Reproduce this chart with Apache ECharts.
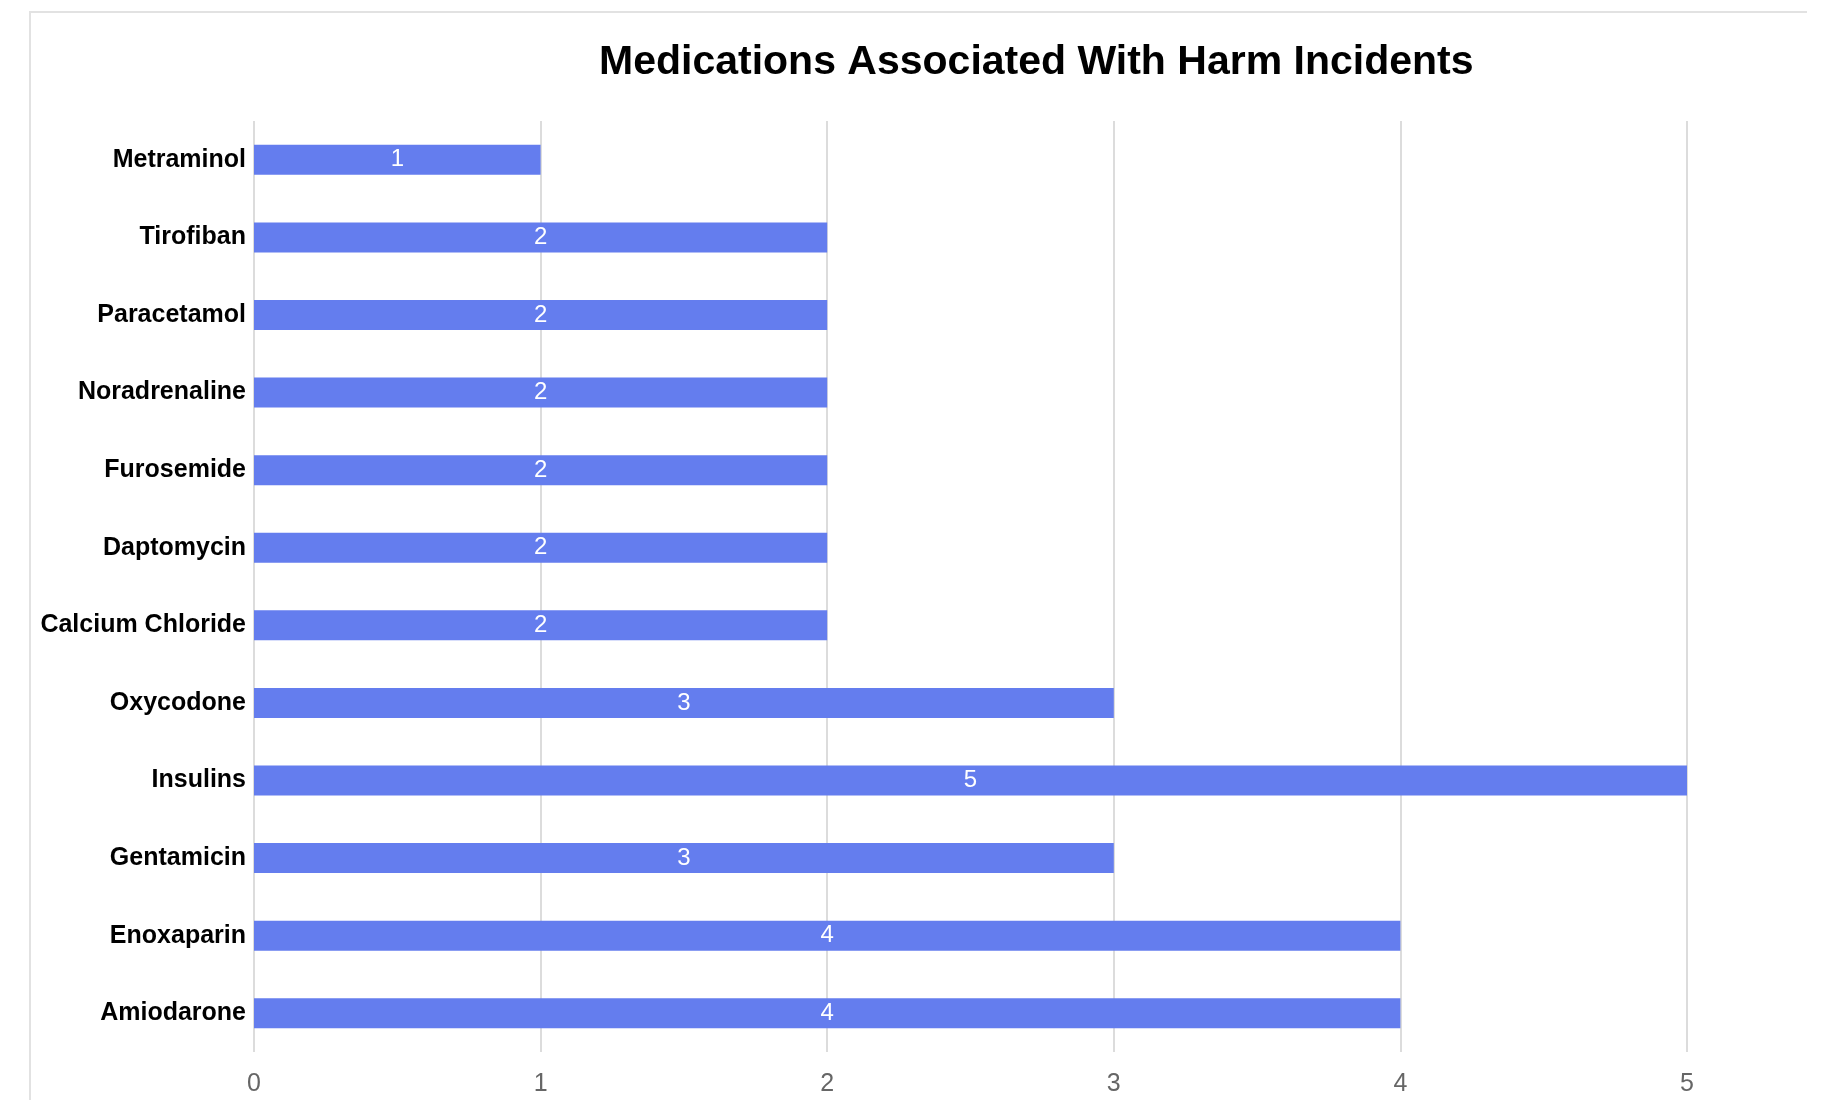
<!DOCTYPE html>
<html>
<head>
<meta charset="utf-8">
<title>Medications Associated With Harm Incidents</title>
<script src="https://cdn.jsdelivr.net/npm/echarts@6/dist/echarts.min.js"></script>
<style>
	html, body {margin: 0; padding: 0; background: #fff;}
	#main {width: 1827px; height: 1100px;}
</style>
</head>
<body>
<div id="main"></div>
<script>
// 药品名称（从上到下）
var medications = ['Metraminol', 'Tirofiban', 'Paracetamol', 'Noradrenaline', 'Furosemide', 'Daptomycin',
	'Calcium Chloride', 'Oxycodone', 'Insulins', 'Gentamicin', 'Enoxaparin', 'Amiodarone'];
// 伤害事件数
var incidents = [1, 2, 2, 2, 2, 2, 2, 3, 5, 3, 4, 4];
var xTicks = [0, 1, 2, 3, 4, 5];

var HarmChart = (function () {
	/**
	 * 药品伤害统计
	 * @param id document element
	 */
	function init(id) {
		var myChart = echarts.init(document.getElementById(id));
		var option = {
			animation: false,
			textStyle: {fontFamily: 'Liberation Sans, Arial, sans-serif'},
			title: {
				text: 'Medications Associated With Harm Incidents',
				left: 594,
				top: 37,
				textStyle: {fontSize: 41, fontWeight: 'bold', color: '#000'}
			},
			// 外框（只有左边和上边）
			graphic: [{
				type: 'polyline',
				shape: {points: [[30, 1120], [30, 12], [1807, 12]]},
				style: {fill: 'none', stroke: '#e2e2e2', lineWidth: 2},
				silent: true
			}],
			grid: {
				left: 254,
				right: 140,
				top: 121,
				bottom: 48
			},
			xAxis: {
				type: 'value',
				min: xTicks[0],
				max: xTicks[xTicks.length - 1],
				interval: 1,
				axisLine: {show: false},
				axisTick: {show: false},
				splitLine: {lineStyle: {color: '#dcdcdc', width: 2}},
				axisLabel: {color: '#666', fontSize: 25, margin: 20}
			},
			yAxis: {
				type: 'category',
				inverse: true,
				data: medications,
				axisLine: {show: false},
				axisTick: {show: false},
				axisLabel: {color: '#000', fontSize: 25, fontWeight: 'bold', margin: 8}
			},
			series: [
				{
					name: 'Harm Incidents',
					type: 'bar',
					barWidth: 30,
					data: incidents,
					itemStyle: {color: '#647dee'},
					label: {
						show: true,
						position: 'inside',
						color: '#fff',
						fontSize: 24
					}
				}
			]
		};
		myChart.setOption(option);
	}

	return {
		init: init
	}
})();

HarmChart.init('main');
</script>
</body>
</html>
